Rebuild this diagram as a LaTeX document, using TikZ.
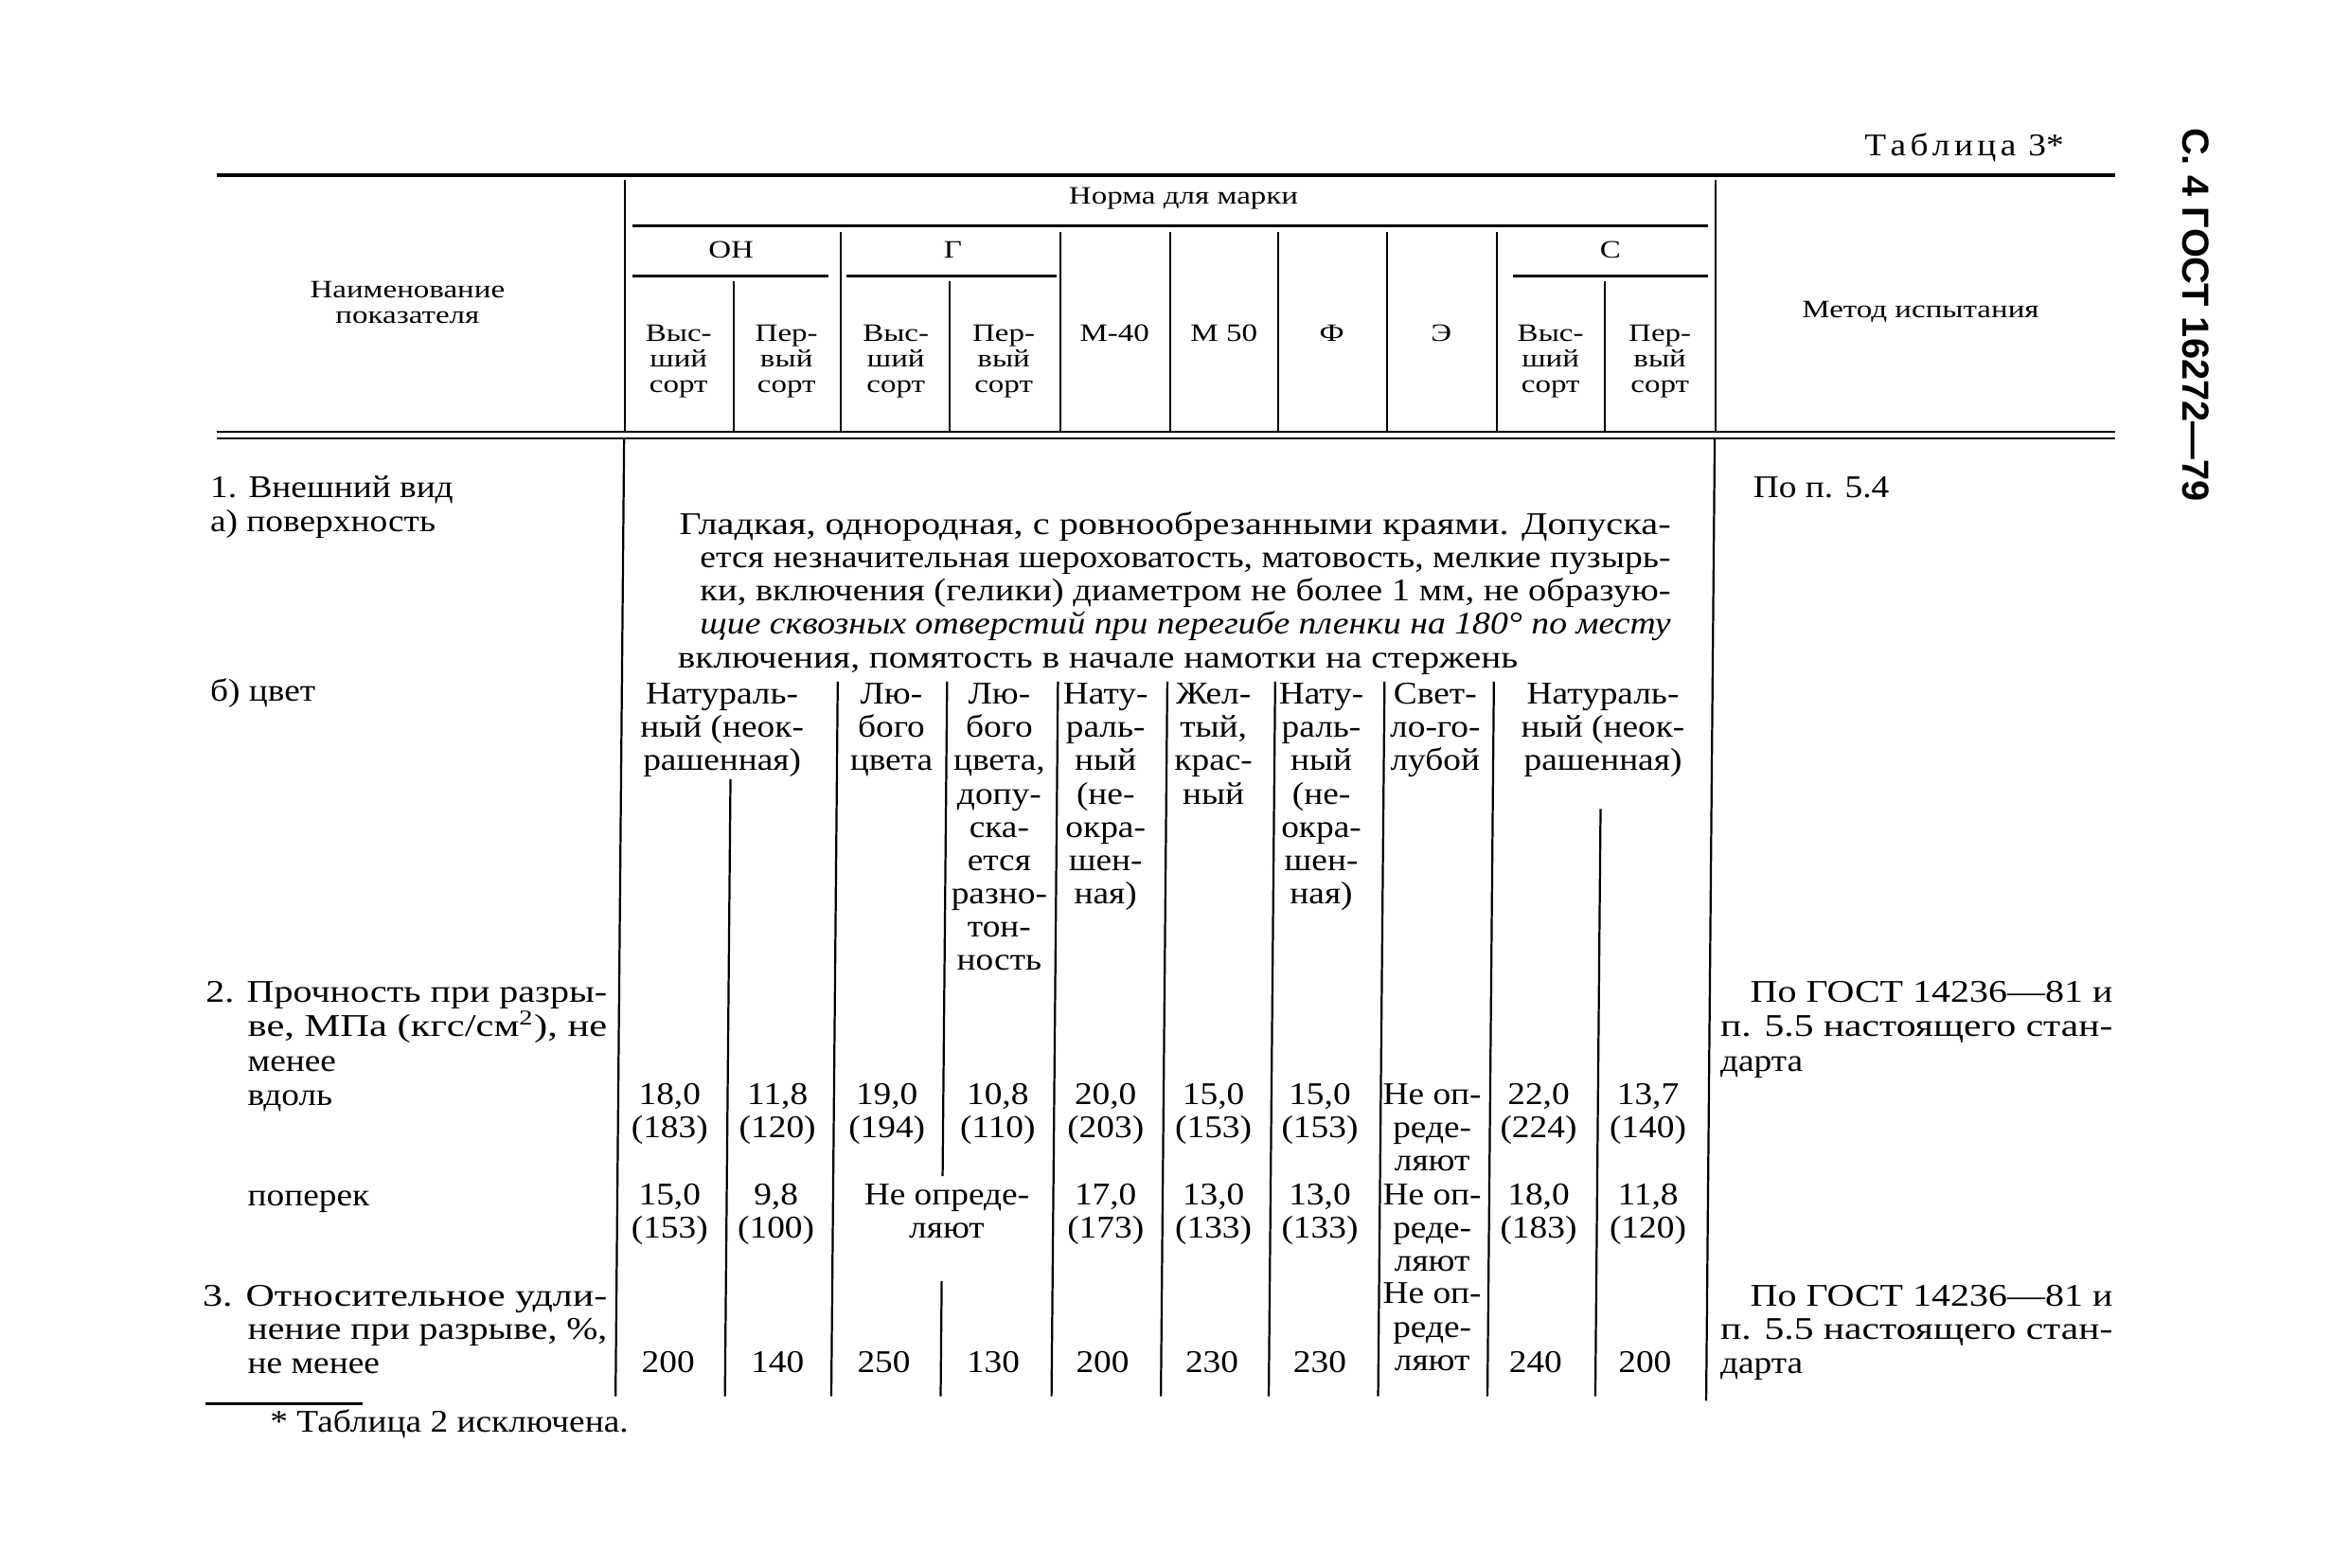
\documentclass[tikz,border=0pt]{standalone}
\usepackage{fontspec}
\usepackage{graphicx}
\setmainfont{Liberation Serif}[FakeStretch=1.12]
\newfontfamily\hdfont{Liberation Serif}[FakeStretch=1.25]
\newfontfamily\sidefont{Liberation Sans}
\newcommand\fitw[2]{\resizebox{#1}{\height}{#2}}
\newcommand\stk[6]{\foreach \cl [count=\ci] in {#6}{\node[#1] (#2\ci) at (#3,{#4+(\ci-1)*#5}) {\cl};}}
\tikzset{
  txt/.style={inner sep=0pt, font=\fontsize{12}{14}\selectfont},
  hd/.style={inner sep=0pt, font=\hdfont\fontsize{9.5}{11}\selectfont},
  vl/.style={line width=0.8pt},
  hrule/.style={line width=1.1pt},
  toprule/.style={line width=1.4pt},
  dblrule/.style={line width=0.8pt},
}
\begin{document}
\begin{tikzpicture}[x=0.02cm,y=-0.02cm]
\fill[white] (0,0) rectangle (1568,1046);
\useasboundingbox (0,0) rectangle (1568,1046);

% title and side text
\node[txt,anchor=base east] (title) at (1378,104) {\makebox[2.66cm][s]{Т\hfil а\hfil б\hfil л\hfil и\hfil ц\hfil а\hfil\hfil\hfil 3*}};
\node[inner sep=0pt, rotate=-90, font=\sidefont\bfseries\fontsize{14.3}{15}\selectfont] (side) at (1466,210) {С. 4 ГОСТ 16272—79};

% header rules
\draw[toprule] (145,117) -- (1412,117);
\draw[hrule] (422,151) -- (1140,151);
\draw[hrule] (422,184) -- (553,184);
\draw[hrule] (565,184) -- (705,184);
\draw[hrule] (1010,184) -- (1140,184);
\draw[dblrule] (145,288) -- (1412,288);
\draw[dblrule] (145,292.5) -- (1412,292.5);

% header verticals
\draw[vl] (417,120) -- (417,288);
\draw[vl] (490,188) -- (490,288);
\draw[vl] (561,155) -- (561,288);
\draw[vl] (634,188) -- (634,288);
\draw[vl] (708,155) -- (708,288);
\draw[vl] (781,155) -- (781,288);
\draw[vl] (853,155) -- (853,288);
\draw[vl] (926,155) -- (926,288);
\draw[vl] (999,155) -- (999,288);
\draw[vl] (1071,188) -- (1071,288);
\draw[vl] (1145,120) -- (1145,288);

% header texts
\stk{hd,anchor=base}{name}{272}{199}{17}{Наименование,показателя}
\node[hd,anchor=base] (norma) at (790,136) {Норма для марки};
\node[hd,anchor=base] (gOH) at (488,172) {ОН};
\node[hd,anchor=base] (gG) at (636,172) {Г};
\node[hd,anchor=base] (gS) at (1075,172) {С};
\stk{hd,anchor=base}{ohv}{453}{228}{17}{Выс-,ший,сорт}
\stk{hd,anchor=base}{ohp}{525}{228}{17}{Пер-,вый,сорт}
\stk{hd,anchor=base}{gv}{598}{228}{17}{Выс-,ший,сорт}
\stk{hd,anchor=base}{gp}{670}{228}{17}{Пер-,вый,сорт}
\node[hd,anchor=base] (m40) at (744,228) {М-40};
\node[hd,anchor=base] (m50) at (817,228) {М 50};
\node[hd,anchor=base] (gF) at (889,228) {Ф};
\node[hd,anchor=base] (gE) at (962,228) {Э};
\stk{hd,anchor=base}{sv}{1035}{228}{17}{Выс-,ший,сорт}
\stk{hd,anchor=base}{sp}{1108}{228}{17}{Пер-,вый,сорт}
\node[hd,anchor=base] (method) at (1282,212) {Метод испытания};

% body verticals
\draw[vl] (416.6,293) -- (410.9,932);
\draw[vl] (487.6,520) -- (483.9,932);
\draw[vl] (559.2,455) -- (554.9,932);
\draw[vl] (632.2,455) -- (629.2,785);
\draw[vl] (628.6,855) -- (627.9,932);
\draw[vl] (706.2,455) -- (701.9,932);
\draw[vl] (779.2,455) -- (774.9,932);
\draw[vl] (851.2,455) -- (846.9,932);
\draw[vl] (924.2,455) -- (919.9,932);
\draw[vl] (997.2,455) -- (992.9,932);
\draw[vl] (1068.4,540) -- (1064.9,932);
\draw[vl] (1144.6,293) -- (1138.9,935);

% row 1
\stk{txt,anchor=base west}{r1}{140}{332}{23}{1. Внешний вид,а) поверхность}
\node[txt,anchor=base west] (m1) at (1170,332) {По п. 5.4};
\node[txt,anchor=base west] (p1) at (453,357) {\fitw{13.24cm}{Гладкая, однородная, с ровнообрезанными краями. Допуска-}};
\node[txt,anchor=base west] (p2) at (467,379) {\fitw{12.96cm}{ется незначительная шероховатость, матовость, мелкие пузырь-}};
\node[txt,anchor=base west] (p3) at (467,401) {\fitw{12.96cm}{ки, включения (гелики) диаметром не более 1 мм, не образую-}};
\node[txt,anchor=base west] (p4) at (467,423) {\fitw{12.96cm}{\itshape щие сквозных отверстий при перегибе пленки на 180° по месту}};
\node[txt,anchor=base west] (p5) at (452,446) {\fitw{11.22cm}{включения, помятость в начале намотки на стержень}};

% colour
\node[txt,anchor=base west] (r1c) at (140,468) {б) цвет};
\stk{txt,anchor=base}{c1}{482}{470}{22.2}{Натураль-,ный (неок-,рашенная)}
\stk{txt,anchor=base}{c2}{595}{470}{22.2}{Лю-,бого,цвета}
\stk{txt,anchor=base}{c3}{667}{470}{22.2}{Лю-,бого,{цвета,},допу-,ска-,ется,разно-,тон-,ность}
\stk{txt,anchor=base}{c4}{738}{470}{22.2}{Нату-,раль-,ный,{(не-},окра-,шен-,{ная)}}
\stk{txt,anchor=base}{c5}{810}{470}{22.2}{Жел-,{тый,},крас-,ный}
\stk{txt,anchor=base}{c6}{882}{470}{22.2}{Нату-,раль-,ный,{(не-},окра-,шен-,{ная)}}
\stk{txt,anchor=base}{c7}{958}{470}{22.2}{Свет-,ло-го-,лубой}
\stk{txt,anchor=base}{c8}{1070}{470}{22.2}{Натураль-,ный (неок-,рашенная)}

% row 2
\node[txt,anchor=base west] (r2a) at (137,669) {\fitw{5.36cm}{2. Прочность при разры-}};
\node[txt,anchor=base west] (r2b) at (165,692) {\fitw{4.8cm}{ве, МПа (кгс/см\textsuperscript{2}), не}};
\node[txt,anchor=base west] (r2c) at (165,715) {менее};
\node[txt,anchor=base west] (r2d) at (165,738) {вдоль};
\node[txt,anchor=base west] (r2e) at (165,805) {поперек};
\node[txt,anchor=base west] (m2a) at (1168,669) {\fitw{4.84cm}{По ГОСТ 14236—81 и}};
\node[txt,anchor=base west] (m2b) at (1148,692) {\fitw{5.24cm}{п. 5.5 настоящего стан-}};
\node[txt,anchor=base west] (m2c) at (1148,715) {дарта};

\stk{txt,anchor=base}{va}{447}{737}{22.2}{{18,0},{(183)}}
\stk{txt,anchor=base}{vb}{519}{737}{22.2}{{11,8},{(120)}}
\stk{txt,anchor=base}{vc}{592}{737}{22.2}{{19,0},{(194)}}
\stk{txt,anchor=base}{vd}{666}{737}{22.2}{{10,8},{(110)}}
\stk{txt,anchor=base}{ve}{738}{737}{22.2}{{20,0},{(203)}}
\stk{txt,anchor=base}{vf}{810}{737}{22.2}{{15,0},{(153)}}
\stk{txt,anchor=base}{vg}{881}{737}{22.2}{{15,0},{(153)}}
\stk{txt,anchor=base}{vh}{956}{737}{22.2}{Не оп-,реде-,ляют}
\stk{txt,anchor=base}{vi}{1027}{737}{22.2}{{22,0},{(224)}}
\stk{txt,anchor=base}{vj}{1100}{737}{22.2}{{13,7},{(140)}}

\stk{txt,anchor=base}{pa}{447}{804}{22.2}{{15,0},{(153)}}
\stk{txt,anchor=base}{pb}{518}{804}{22.2}{{9,8},{(100)}}
\stk{txt,anchor=base}{pc}{632}{804}{22.2}{Не опреде-,ляют}
\stk{txt,anchor=base}{pe}{738}{804}{22.2}{{17,0},{(173)}}
\stk{txt,anchor=base}{pf}{810}{804}{22.2}{{13,0},{(133)}}
\stk{txt,anchor=base}{pg}{881}{804}{22.2}{{13,0},{(133)}}
\stk{txt,anchor=base}{ph}{956}{804}{22.2}{Не оп-,реде-,ляют}
\stk{txt,anchor=base}{pi}{1027}{804}{22.2}{{18,0},{(183)}}
\stk{txt,anchor=base}{pj}{1100}{804}{22.2}{{11,8},{(120)}}

% row 3
\node[txt,anchor=base west] (r3a) at (135,872) {\fitw{5.4cm}{3. Относительное удли-}};
\node[txt,anchor=base west] (r3b) at (165,894) {\fitw{4.8cm}{нение при разрыве, \%,}};
\node[txt,anchor=base west] (r3c) at (165,917) {не менее};
\node[txt,anchor=base west] (m3a) at (1168,872) {\fitw{4.84cm}{По ГОСТ 14236—81 и}};
\node[txt,anchor=base west] (m3b) at (1148,894) {\fitw{5.24cm}{п. 5.5 настоящего стан-}};
\node[txt,anchor=base west] (m3c) at (1148,917) {дарта};

\node[txt,anchor=base] (ea) at (446,916) {200};
\node[txt,anchor=base] (eb) at (519,916) {140};
\node[txt,anchor=base] (ec) at (590,916) {250};
\node[txt,anchor=base] (ed) at (663,916) {130};
\node[txt,anchor=base] (ee) at (736,916) {200};
\node[txt,anchor=base] (ef) at (809,916) {230};
\node[txt,anchor=base] (eg) at (881,916) {230};
\stk{txt,anchor=base}{eh}{956}{870}{22.4}{Не оп-,реде-,ляют}
\node[txt,anchor=base] (ei) at (1025,916) {240};
\node[txt,anchor=base] (ej) at (1098,916) {200};

% footnote
\draw[line width=1.2pt] (137,937) -- (242,937);
\node[txt,anchor=base west] (foot) at (180,956) {* Таблица 2 исключена.};
\end{tikzpicture}
\end{document}
